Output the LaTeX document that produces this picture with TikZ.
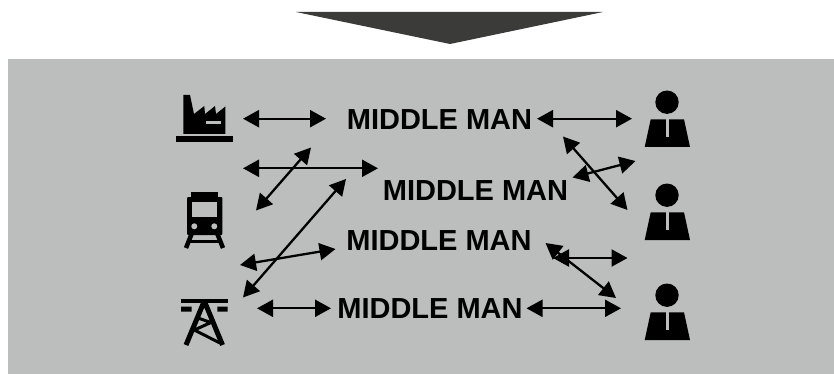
\documentclass[tikz,border=0pt]{standalone}
\usepackage{fontspec}
\setmainfont{Liberation Sans}
\usetikzlibrary{arrows.meta}
\definecolor{panelgray}{HTML}{BCBEBD}
\definecolor{wedgegray}{HTML}{3B3C39}
\tikzset{
    mman/.style={font=\fontsize{29}{29}\selectfont\bfseries,inner sep=0pt},
    link/.style={<->,line width=2.3pt},
    person/.pic={
        \fill(0,-.1)circle(11.7);
        \fill(-16.3,17)--(17,17)--(23,44.7)--(-22.3,44.7)--cycle;
        \fill[panelgray](-1.3,17)rectangle(2.3,35);
    }
}
\begin{document}
\begin{tikzpicture}[x=1pt,y=-1pt,>={Stealth[inset=0pt,length=16pt,width=17pt]}]
    \useasboundingbox(0,0)rectangle(834,374);
    \fill[panelgray](8,59)rectangle(834,374);
    \fill[wedgegray](296,12)--(603,12)--(450,44)--cycle;
    % factory
    \fill(176,136.5)rectangle(233,142);
    \fill(183.3,95)--(190,95)--(194,114)--(204.3,106)--(205,114)--(215,106)--(216,114)--(225.3,106.5)--(225.3,134)--(183.3,134)--cycle;
    \fill[panelgray](206,120.7)rectangle(220.7,124);
    % train
    \fill(191,192.3)rectangle(217.7,197);
    \fill[rounded corners=1pt](187,197)rectangle(222.3,235);
    \fill[panelgray](191.7,201.7)rectangle(217.3,216.7);
    \fill[panelgray](194.3,226.3)circle(3)(214.3,226.3)circle(3);
    \draw[line width=4.5pt](192,233)--(186,248)(217,233)--(223,248);
    \draw[line width=3pt](189,241.7)--(220,241.7);
    % tower
    \fill(181,299)rectangle(227.7,302.7);
    \fill(181,306.7)rectangle(191.7,311.7)(217.3,306.7)rectangle(227.7,311.7);
    \draw[line width=5pt](204.3,301)--(186,345)(204.3,301)--(222.5,345);
    \draw[line width=3pt](198,318)--(211,322.5)--(194.3,330)--(220,343);
    % people
    \pic at(667,102.3){person};
    \pic at(667,195.3){person};
    \pic at(667,295.3){person};
    % labels
    \node[mman](mm1)at(439.5,119.5){MIDDLE MAN};
    \node[mman](mm2)at(475.5,190.4){MIDDLE MAN};
    \node[mman](mm3)at(439,240.7){MIDDLE MAN};
    \node[mman](mm4)at(430,308.5){MIDDLE MAN};
    % free ends of the links
    \coordinate(a1)at(243,118.7);\coordinate(b1)at(326,118.7);
    \coordinate(a2)at(243,168.3);\coordinate(b2)at(378,168.3);
    \coordinate(a3)at(256,210.5);\coordinate(b3)at(311,147.5);
    \coordinate(a4)at(243,297.5);\coordinate(b4)at(346,179);
    \coordinate(a5)at(240,265);\coordinate(b5)at(335.5,249);
    \coordinate(a6)at(257,308.3);\coordinate(b6)at(331,308.3);
    \coordinate(a7)at(537,118.7);\coordinate(b7)at(632,118.7);
    \coordinate(a8)at(563,136.5);\coordinate(b8)at(627.5,210);
    \coordinate(a9)at(572.5,177.5);\coordinate(b9)at(635.5,161);
    \coordinate(a10)at(553,258);\coordinate(b10)at(627.5,258);
    \coordinate(a11)at(545.5,243);\coordinate(b11)at(616,298);
    \coordinate(a12)at(526.5,308.3);\coordinate(b12)at(621,308.3);
    \foreach \n in {1,...,12}
        \draw[link](a\n)--(b\n);
\end{tikzpicture}
\end{document}
